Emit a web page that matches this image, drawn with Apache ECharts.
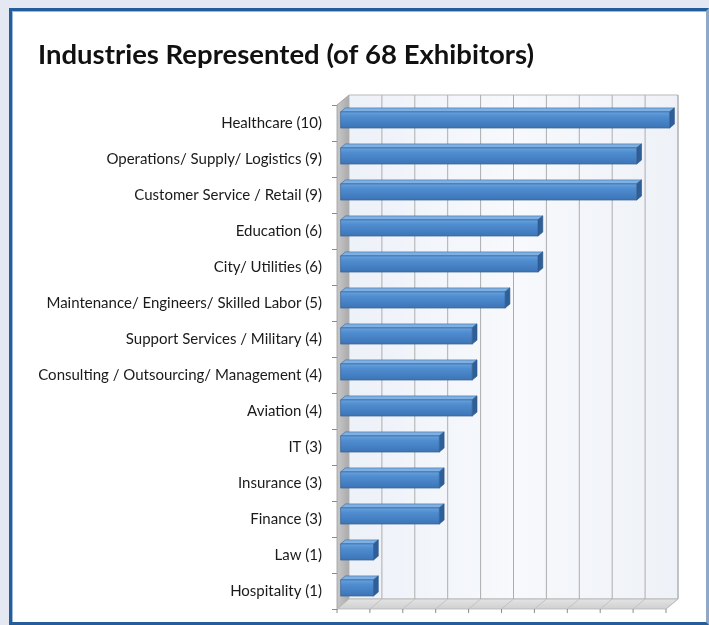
<!DOCTYPE html>
<html>
<head>
<meta charset="utf-8">
<script src="https://cdn.jsdelivr.net/npm/echarts@6/dist/echarts.min.js"></script>
<style>
  html, body { margin: 0; padding: 0; width: 709px; height: 625px; background: #e3e8f2; overflow: hidden; }
  #frame {
    position: absolute; left: 9px; top: 8px; width: 694px; height: 611px;
    border: 3px solid #245d9b; border-right-color: #8fa8c6;
    background: #ffffff; box-shadow: inset 1px 1px 0 0 #9fb8d6;
  }
  #chart { position: absolute; left: 0; top: 0; width: 709px; height: 625px; }
</style>
</head>
<body>
<div id="frame"></div>
<div id="chart"></div>
<script>
// Exhibitor counts by industry (top to bottom)
const categories = [
  'Healthcare (10)',
  'Operations/ Supply/ Logistics (9)',
  'Customer Service / Retail (9)',
  'Education (6)',
  'City/ Utilities (6)',
  'Maintenance/ Engineers/ Skilled Labor (5)',
  'Support Services / Military (4)',
  'Consulting / Outsourcing/ Management (4)',
  'Aviation (4)',
  'IT (3)',
  'Insurance (3)',
  'Finance (3)',
  'Law (1)',
  'Hospitality (1)'
];
const counts = [10, 9, 9, 6, 6, 5, 4, 4, 4, 3, 3, 3, 1, 1];
const axisMin = 0;
const axisMax = 10;
const axisStep = 1;

// depth offset of the back wall relative to the front plane (pixels)
const DX = 12, DY = -10;
const FRONT_T = 0.3, BACK_T = 0.7;

const chart = echarts.init(document.getElementById('chart'), null, { renderer: 'canvas' });

function renderWalls(params, api) {
  const cs = params.coordSys;
  const gx = cs.x, gy = cs.y, gw = cs.width, gh = cs.height;
  const children = [];
  // left side wall
  children.push({
    type: 'polygon',
    shape: { points: [[gx, gy], [gx + DX, gy + DY], [gx + DX, gy + gh + DY], [gx, gy + gh]] },
    style: {
      fill: new echarts.graphic.LinearGradient(0, 0, 1, 0, [
        { offset: 0, color: '#c9c9c9' }, { offset: 1, color: '#a9a9a9' }
      ]),
      stroke: '#9a9a9a', lineWidth: 0.8
    }
  });
  // back wall
  children.push({
    type: 'rect',
    shape: { x: gx + DX, y: gy + DY, width: gw, height: gh },
    style: {
      fill: new echarts.graphic.LinearGradient(0, 0, 1, 0, [
        { offset: 0, color: '#edf1f8' }, { offset: 0.5, color: '#f7f9fc' }, { offset: 1, color: '#eef1f7' }
      ]),
      stroke: '#b9b9b9', lineWidth: 1
    }
  });
  // floor
  children.push({
    type: 'polygon',
    shape: { points: [[gx, gy + gh], [gx + gw, gy + gh], [gx + gw + DX, gy + gh + DY], [gx + DX, gy + gh + DY]] },
    style: {
      fill: new echarts.graphic.LinearGradient(0, 0, 0, 1, [
        { offset: 0, color: '#e4e4e4' }, { offset: 1, color: '#cfcfcf' }
      ]),
      stroke: '#b5b5b5', lineWidth: 0.8
    }
  });
  for (let k = axisMin; k <= axisMax; k += axisStep) {
    const x = api.coord([k, 0])[0];
    if (k > axisMin) {
      children.push({
        type: 'line',
        shape: { x1: x + DX, y1: gy + DY, x2: x + DX, y2: gy + gh + DY },
        style: { stroke: '#adadad', lineWidth: 1 }
      });
    }
    children.push({
      type: 'line',
      shape: { x1: x + DX, y1: gy + gh + DY, x2: x, y2: gy + gh },
      style: { stroke: '#bdbdbd', lineWidth: 0.8 }
    });
    children.push({
      type: 'line',
      shape: { x1: x, y1: gy + gh, x2: x, y2: gy + gh + 4 },
      style: { stroke: '#8c8c8c', lineWidth: 1 }
    });
  }
  return { type: 'group', children: children };
}

function renderBar(params, api) {
  const v = api.value(0), idx = api.value(1);
  const start = api.coord([axisMin, idx]);
  const end = api.coord([v, idx]);
  const band = api.size([0, 1])[1];
  const h = band * 0.45;
  const fx = DX * FRONT_T, fy = DY * FRONT_T;
  const bdx = DX * (BACK_T - FRONT_T), bdy = DY * (BACK_T - FRONT_T);
  const x0 = start[0] + fx, x1 = end[0] + fx;
  const yTop = start[1] - h / 2 + fy, yBot = yTop + h;
  return {
    type: 'group',
    children: [
      {
        type: 'polygon',
        shape: { points: [[x0, yTop], [x1, yTop], [x1 + bdx, yTop + bdy], [x0 + bdx, yTop + bdy]] },
        style: { fill: '#7fb0e4', stroke: '#3a6798', lineWidth: 0.6 }
      },
      {
        type: 'polygon',
        shape: { points: [[x1, yTop], [x1 + bdx, yTop + bdy], [x1 + bdx, yBot + bdy], [x1, yBot]] },
        style: { fill: '#2f5f98', stroke: '#2a5383', lineWidth: 0.6 }
      },
      {
        type: 'rect',
        shape: { x: x0, y: yTop, width: x1 - x0, height: h },
        style: {
          fill: new echarts.graphic.LinearGradient(0, 0, 0, 1, [
            { offset: 0, color: '#68a2de' }, { offset: 0.3, color: '#4f8dd0' }, { offset: 1, color: '#3c74b6' }
          ]),
          stroke: '#2f5d8f', lineWidth: 0.6
        }
      }
    ]
  };
}

const option = {
  animation: false,
  backgroundColor: 'transparent',
  title: {
    text: 'Industries Represented (of 68 Exhibitors)',
    left: 33, top: 36,
    textStyle: { fontFamily: 'Lato', fontWeight: 'bold', fontSize: 27.5, color: '#111111' }
  },
  grid: { left: 337, top: 105, width: 329, height: 504 },
  xAxis: {
    type: 'value', min: axisMin, max: axisMax, interval: axisStep,
    axisLabel: { show: false }, axisLine: { show: false }, axisTick: { show: false }, splitLine: { show: false }
  },
  yAxis: {
    type: 'category', data: categories, inverse: true,
    axisLine: { show: true, lineStyle: { color: '#9a9a9a' } },
    axisTick: { show: true, length: 5, lineStyle: { color: '#8c8c8c' } },
    axisLabel: { margin: 15, fontFamily: 'Lato', fontSize: 15, color: '#1a1a1a' },
    splitLine: { show: false }
  },
  series: [
    {
      type: 'custom', z: 1, silent: true,
      renderItem: renderWalls,
      data: [[0, 0]],
      encode: { x: 0, y: 1 }
    },
    {
      type: 'custom', z: 3,
      renderItem: renderBar,
      data: counts.map((c, i) => [c, i]),
      encode: { x: 0, y: 1 }
    }
  ]
};
chart.setOption(option);
</script>
</body>
</html>
